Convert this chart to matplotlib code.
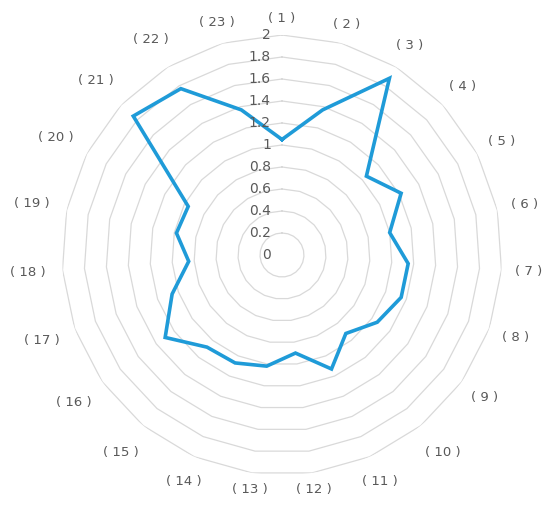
import numpy as np
import matplotlib
matplotlib.use("Agg")
import matplotlib.pyplot as plt

# data
categories = ["( %d )" % i for i in range(1, 24)]
values = [1.05, 1.37, 1.88, 1.05, 1.22, 1.00, 1.15, 1.15, 1.06, 0.92, 1.13, 0.90,
          1.02, 1.07, 1.08, 1.30, 1.06, 0.85, 0.98, 0.96, 1.85, 1.77, 1.37]
ring_values = [0.2, 0.4, 0.6, 0.8, 1.0, 1.2, 1.4, 1.6, 1.8, 2.0]
tick_values = [0, 0.2, 0.4, 0.6, 0.8, 1, 1.2, 1.4, 1.6, 1.8, 2]

plt.rcParams['font.family'] = ['DejaVu Sans']


def main():
    fig = plt.figure(figsize=(5.5, 5.11), dpi=100)
    ax = fig.add_axes([0.1127, 0.0705, 0.8, 0.861], projection='polar')
    ax.set_theta_zero_location('N')
    ax.set_theta_direction(-1)
    ax.set_ylim(0, 2)
    ax.set_axis_off()

    n = len(categories)
    theta = np.arange(n) * 2 * np.pi / n
    closed = np.append(theta, theta[0])

    # polygon grid rings
    for r in ring_values:
        ax.plot(closed, [r] * (n + 1), color='#d9d9d9', lw=0.9, zorder=1)

    # value labels along the top axis
    for v in tick_values:
        ax.annotate("%g" % v, xy=(0, v), xytext=(-8, 0), textcoords='offset points',
                    ha='right', va='center', fontsize=10, color='#595959', zorder=3)

    # data line
    ax.plot(closed, values + values[:1], color='#1f9bd8', lw=2.6, zorder=2,
            solid_joinstyle='miter')

    # category labels
    for t, lab in zip(theta, categories):
        w = 0.10 if len(lab) == 5 else 0.17
        f = np.clip((abs(np.sin(t)) - 0.15) * 2.2, 0, 1)
        ax.text(t, 2.15 + w * f, lab, ha='center', va='center',
                fontsize=9.5, color='#595959')

    fig.savefig("out.png", dpi=100)


if __name__ == '__main__':
    main()
